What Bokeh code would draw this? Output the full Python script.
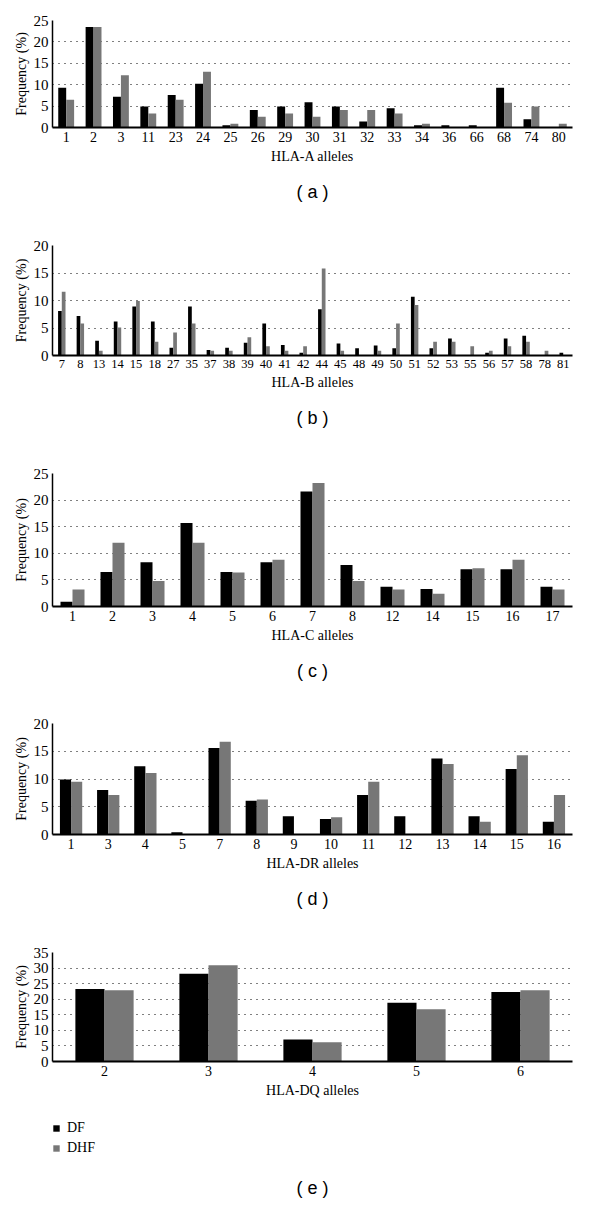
from bokeh.plotting import figure
from bokeh.models import ColumnDataSource, FixedTicker, Title, Legend, LegendItem
from bokeh.transform import dodge
from bokeh.layouts import column
from bokeh.embed import file_html
from bokeh.resources import INLINE

# ---- data (frequencies in %) ----
a_alleles = ["1", "2", "3", "11", "23", "24", "25", "26", "29", "30", "31", "32", "33", "34", "36", "66", "68", "74", "80"]
a_df = [9.3, 23.5, 7.2, 4.9, 7.6, 10.2, 0.5, 4.1, 4.9, 5.9, 4.9, 1.4, 4.5, 0.5, 0.5, 0.5, 9.3, 1.9, 0]
a_dhf = [6.5, 23.5, 12.2, 3.3, 6.5, 13.0, 0.9, 2.5, 3.3, 2.5, 4.1, 4.1, 3.3, 0.9, 0, 0, 5.8, 4.9, 0.9]

b_alleles = ["7", "8", "13", "14", "15", "18", "27", "35", "37", "38", "39", "40", "41", "42", "44", "45", "48", "49",
             "50", "51", "52", "53", "55", "56", "57", "58", "78", "81"]
b_df = [8.1, 7.2, 2.7, 6.2, 8.9, 6.2, 1.4, 8.9, 1.0, 1.4, 2.3, 5.8, 1.9, 0.5, 8.4, 2.2, 1.3, 1.8,
        1.3, 10.7, 1.3, 3.1, 0, 0.5, 3.1, 3.6, 0, 0.5]
b_dhf = [11.6, 5.8, 0.85, 5.1, 9.9, 2.5, 4.2, 5.8, 0.85, 0.85, 3.3, 1.7, 0.85, 1.7, 15.8, 0.85, 0, 0.85,
         5.8, 9.2, 2.5, 2.5, 1.7, 0.85, 1.7, 2.5, 0.85, 0]

c_alleles = ["1", "2", "3", "4", "5", "6", "7", "8", "12", "14", "15", "16", "17"]
c_df = [0.9, 6.5, 8.3, 15.7, 6.5, 8.3, 21.6, 7.8, 3.7, 3.3, 7.0, 7.0, 3.7]
c_dhf = [3.2, 12.0, 4.8, 12.0, 6.4, 8.8, 23.2, 4.8, 3.2, 2.4, 7.2, 8.8, 3.2]

d_alleles = ["1", "3", "4", "5", "7", "8", "9", "10", "11", "12", "13", "14", "15", "16"]
d_df = [9.9, 8.0, 12.3, 0.4, 15.6, 6.1, 3.3, 2.8, 7.1, 3.3, 13.7, 3.3, 11.8, 2.3]
d_dhf = [9.5, 7.1, 11.1, 0, 16.7, 6.3, 0, 3.1, 9.5, 0, 12.7, 2.3, 14.3, 7.1]

e_alleles = ["2", "3", "4", "5", "6"]
e_df = [23.3, 28.2, 7.1, 18.9, 22.3]
e_dhf = [22.9, 30.9, 6.2, 16.8, 22.9]

series_names = ["DF", "DHF"]

SERIF = "Liberation Serif"
SANS = "Liberation Sans"
DF_COLOR = "#000000"
DHF_COLOR = "#777777"


def tag_title(tag, standoff):
    return Title(text=tag, align="center", text_font=SANS, text_font_size="18px",
                 text_font_style="normal", text_color="black", standoff=standoff)


def make_panel(alleles, df, dhf, ymax, xlabel, tag, height, top, bottom, bw,
               right=12, xfont="14px", tag_standoff=26):
    src = ColumnDataSource(dict(x=alleles, df=df, dhf=dhf))
    p = figure(x_range=alleles, y_range=(0, ymax), width=584, height=height,
               output_backend="svg", toolbar_location=None,
               min_border_left=52, min_border_right=right,
               min_border_top=top, min_border_bottom=bottom)
    p.outline_line_color = None
    p.vbar(x=dodge("x", -bw / 2, range=p.x_range), top="df", width=bw, source=src,
           fill_color=DF_COLOR, line_color=None)
    p.vbar(x=dodge("x", bw / 2, range=p.x_range), top="dhf", width=bw, source=src,
           fill_color=DHF_COLOR, line_color=None)

    p.xgrid.visible = False
    p.ygrid.grid_line_color = "black"
    p.ygrid.grid_line_dash = "1 5"
    p.ygrid.grid_line_width = 1
    p.yaxis.ticker = FixedTicker(ticks=list(range(0, ymax + 1, 5)))

    for ax in (p.xaxis[0], p.yaxis[0]):
        ax.major_tick_line_color = None
        ax.minor_tick_line_color = None
        ax.major_tick_out = 0
        ax.major_tick_in = 0
        ax.axis_line_color = "black"
        ax.major_label_text_font = SERIF
        ax.major_label_text_color = "black"
        ax.axis_label_text_font = SERIF
        ax.axis_label_text_font_style = "normal"
        ax.axis_label_text_color = "black"
        ax.axis_label_text_font_size = "14px"
    p.xaxis.axis_line_width = 2
    p.yaxis.axis_line_width = 1.5
    p.xaxis.major_label_text_font_size = xfont
    p.yaxis.major_label_text_font_size = "15px"
    p.xaxis.major_label_standoff = 4
    p.xaxis.axis_label_standoff = 4
    p.yaxis.major_label_standoff = 4
    p.yaxis.axis_label_standoff = 2
    p.xaxis.axis_label = xlabel
    p.yaxis.axis_label = "Frequency (%)"

    if tag:
        p.add_layout(tag_title(tag, tag_standoff), "below")
    return p


pa = make_panel(a_alleles, a_df, a_dhf, 25, "HLA-A alleles", "( a )", 217, 20, 90, 0.29)
pb = make_panel(b_alleles, b_df, b_dhf, 20, "HLA-B alleles", "( b )", 230, 28, 92, 0.2, xfont="12.5px")
pc = make_panel(c_alleles, c_df, c_dhf, 25, "HLA-C alleles", "( c )", 250, 26, 91, 0.3)
pd = make_panel(d_alleles, d_df, d_dhf, 20, "HLA-DR alleles", "( d )", 230, 26, 93, 0.3)
pe = make_panel(e_alleles, e_df, e_dhf, 35, "HLA-DQ alleles", None, 175, 25, 41, 0.28, right=5)

# legend strip with the "(e)" tag (legend proxies are zero-height bars, not visible)
pl = figure(x_range=(0, 1), y_range=(0, 1), width=584, height=100,
            output_backend="svg", toolbar_location=None,
            x_axis_location=None, y_axis_location=None,
            min_border_left=52, min_border_right=5,
            min_border_top=18, min_border_bottom=32)
pl.outline_line_color = None
pl.grid.visible = False
proxy = ColumnDataSource(dict(x=[0.5], top=[0.0]))
l1 = pl.vbar(x="x", top="top", width=0.01, source=proxy, fill_color=DF_COLOR, line_color=None)
l2 = pl.vbar(x="x", top="top", width=0.01, source=proxy, fill_color=DHF_COLOR, line_color=None)
leg = Legend(items=[LegendItem(label=series_names[0], renderers=[l1]),
                    LegendItem(label=series_names[1], renderers=[l2])],
             orientation="vertical", location="top_left",
             margin=0, padding=0, spacing=4,
             glyph_width=8, glyph_height=8, label_height=14,
             label_standoff=7, label_text_font=SERIF, label_text_color="black",
             label_text_font_size="14px", border_line_color=None,
             background_fill_alpha=0)
pl.add_layout(leg, "center")
pl.add_layout(tag_title("( e )", 10), "below")

layout = column(pa, pb, pc, pd, pe, pl, spacing=0)
open("out.html", "w").write(file_html(layout, INLINE))
